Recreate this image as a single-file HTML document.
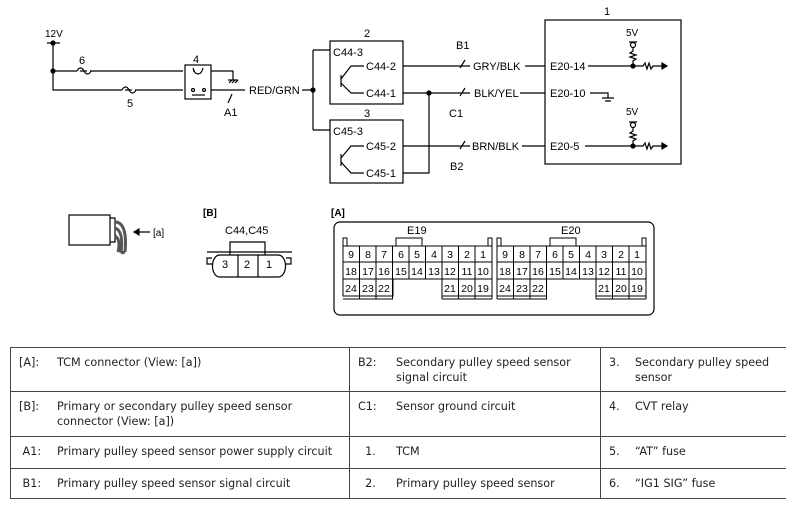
<!DOCTYPE html>
<html><head><meta charset="utf-8"><style>
body{margin:0;background:#fff;width:786px;height:507px;overflow:hidden;position:relative;font-family:"Liberation Sans",sans-serif}
svg{position:absolute;left:0;top:0}
table{position:absolute;left:10px;top:347px;border-collapse:collapse;table-layout:fixed;width:800px;font-family:"DejaVu Sans",sans-serif;font-size:11.2px;color:#222}
td{border:1px solid #444;vertical-align:top;padding:7px 2px 0 8px;overflow:hidden;white-space:nowrap;line-height:15px}
td span{display:inline-block;width:38px}
td.c span{width:26px}
</style></head><body>
<svg width="786" height="340" font-family="Liberation Sans, sans-serif" font-size="11" fill="none" stroke="#000" stroke-width="1.2">
<g fill="#000" stroke="none">
<text x="45" y="37" font-size="10">12V</text>
<text x="79" y="64">6</text><text x="127" y="107">5</text><text x="193" y="63">4</text>
<text x="224" y="116">A1</text><text x="249" y="94">RED/GRN</text>
<text x="364" y="37">2</text><text x="364" y="117">3</text>
<text x="333" y="56">C44-3</text><text x="366" y="70">C44-2</text><text x="366" y="97">C44-1</text>
<text x="333" y="135">C45-3</text><text x="366" y="150">C45-2</text><text x="366" y="177">C45-1</text>
<text x="456" y="49">B1</text><text x="449" y="117">C1</text><text x="450" y="170">B2</text>
<text x="473" y="70">GRY/BLK</text><text x="474" y="97">BLK/YEL</text><text x="472" y="150">BRN/BLK</text>
<text x="550" y="70">E20-14</text><text x="550" y="97">E20-10</text><text x="550" y="150">E20-5</text>
<text x="604" y="15">1</text><text x="626" y="36" font-size="10">5V</text><text x="626" y="115" font-size="10">5V</text>
<text x="153" y="236" font-size="10">[a]</text>
<text x="203" y="216" font-weight="bold" font-size="10">[B]</text><text x="331" y="216" font-weight="bold" font-size="10">[A]</text>
<text x="225" y="234" font-size="11">C44,C45</text>
<text x="222" y="268">3</text><text x="244" y="268">2</text><text x="266" y="268">1</text>
<text x="407" y="234">E19</text><text x="561" y="234">E20</text>
</g>
<circle cx="53" cy="43" r="2" fill="#000"/><path d="M47 43H60M53 43V90H183M53 71H183"/><circle cx="53" cy="71" r="2" fill="#000"/>
<path d="M77 71h3M87 71h3M122 90h3M132 90h3" stroke="#fff" stroke-width="3"/>
<path d="M77 71c2-4 5-4 7 0s5 4 7 0M122 90c2-4 5-4 7 0s5 4 7 0"/>
<rect x="185" y="65" width="26" height="34"/>
<path d="M193 71h2m16 0h22v9M228 80h10M229 83l3-3m0 3l3-3m0 3l3-3M211 90h34M228 103l4-9M302 90h11M313 50V130M313 50h17M313 130h17"/>
<path d="M193 68c2 8 8 8 10 0" /><circle cx="193" cy="90" r="1.5"/><circle cx="204" cy="90" r="1.5"/><path d="M192 95h13"/>
<circle cx="313" cy="90" r="2" fill="#000"/>
<rect x="330" y="41" width="73" height="63"/><rect x="330" y="120" width="73" height="63"/>
<path d="M341 75v12M341 79l10-13h13M341 83l10 10h13M341 154v12M341 158l10-12h13M341 162l10 11h13"/>
<path d="M403 66h67M403 93h67M403 146h67M403 173h26V93M465 60l-5 8M465 88l-5 8M465 141l-5 8M525 66h20M520 93h25M522 146h23"/>
<circle cx="429" cy="93" r="2" fill="#000"/>
<rect x="545" y="20" width="136" height="144"/>
<path d="M588 66h45M590 93h18v5M602 98h12M605 101h6M585 146h48"/>
<circle cx="633" cy="66" r="2" fill="#000"/><circle cx="633" cy="146" r="2" fill="#000"/>
<circle cx="633" cy="45" r="2.5"/><circle cx="633" cy="125" r="2.5"/>
<path d="M629 42h8M629 122h8M633 48v3l-3 2 6 2-6 2 6 2-3 2v7M633 128v3l-3 2 6 2-6 2 6 2-3 2v7"/>
<path d="M633 66h10l2-3 2 6 2-6 2 6 2-3h10M633 146h10l2-3 2 6 2-6 2 6 2-3h10"/>
<path d="M662 63l5 3-5 3zM662 143l5 3-5 3z" fill="#000"/>
<rect x="69" y="215" width="41" height="30"/><path d="M110 218h5v24h-5"/>
<path d="M115 222c8 0 12 10 10 30M115 228c6 2 8 10 6 25M115 236c4 2 5 8 3 16M125 252l-4 1" stroke="#555" stroke-width="3"/>
<path d="M150 232h-12M139 229l-5 3 5 3z" fill="#000"/>
<path d="M230 255v-13h35v13M207 252h85M212 258h-5v6h5M286 258h5v6h-5M220 255h58c10 0 10 22 0 22h-58c-10 0-10-22 0-22M238 255v22M258 255v22"/>
<rect x="334" y="222" width="320" height="93" rx="6"/>
<g stroke-width="1">
<path d="M343 246h149v33M343 246v50h50v-17M343 262h149M343 279h50M343 296h50M343 299h50M359.5 246v53M376 246v53M392.5 246v53M409 246v33M425.5 246v33M442 246v53M458.5 246v53M475 246v53M442 279h50M442 296h50M442 299h50M492 279v20M393 279h49"/>
<path d="M343 246v-8h4v8M488 246v-8h4v8M396 246v-8h26v8"/>
<path d="M497 246h149v53M497 246v53M497 262h149M497 279h149M497 296h50M497 299h50M513.5 246v53M530 246v53M546.5 246v53M563 246v33M579.5 246v33M596 246v53M612.5 246v53M629 246v53M596 296h50M596 299h50"/>
<path d="M497 246v-8h4v8M642 246v-8h4v8M550 246v-8h26v8"/>
</g>
<g fill="#000" stroke="none" font-size="10.5" text-anchor="middle">
<text x="351" y="258">9</text><text x="368" y="258">8</text><text x="384" y="258">7</text><text x="401" y="258">6</text><text x="417" y="258">5</text><text x="434" y="258">4</text><text x="450" y="258">3</text><text x="467" y="258">2</text><text x="483" y="258">1</text>
<text x="351" y="275">18</text><text x="368" y="275">17</text><text x="384" y="275">16</text><text x="401" y="275">15</text><text x="417" y="275">14</text><text x="434" y="275">13</text><text x="450" y="275">12</text><text x="467" y="275">11</text><text x="483" y="275">10</text>
<text x="351" y="292">24</text><text x="368" y="292">23</text><text x="384" y="292">22</text><text x="450" y="292">21</text><text x="467" y="292">20</text><text x="483" y="292">19</text>
<text x="505" y="258">9</text><text x="522" y="258">8</text><text x="538" y="258">7</text><text x="555" y="258">6</text><text x="571" y="258">5</text><text x="588" y="258">4</text><text x="604" y="258">3</text><text x="621" y="258">2</text><text x="637" y="258">1</text>
<text x="505" y="275">18</text><text x="522" y="275">17</text><text x="538" y="275">16</text><text x="555" y="275">15</text><text x="571" y="275">14</text><text x="588" y="275">13</text><text x="604" y="275">12</text><text x="621" y="275">11</text><text x="637" y="275">10</text>
<text x="505" y="292">24</text><text x="522" y="292">23</text><text x="538" y="292">22</text><text x="604" y="292">21</text><text x="621" y="292">20</text><text x="637" y="292">19</text>
</g>
</svg>
<table>
<colgroup><col style="width:339px"><col style="width:251px"><col style="width:210px"></colgroup>
<tr style="height:44px"><td><span>[A]:</span>TCM connector (View: [a])</td><td><span>B2:</span>Secondary pulley speed sensor<br><span></span>signal circuit</td><td class="c"><span>3.</span>Secondary pulley speed<br><span></span>sensor</td></tr>
<tr style="height:45px"><td><span>[B]:</span>Primary or secondary pulley speed sensor<br><span></span>connector (View: [a])</td><td><span>C1:</span>Sensor ground circuit</td><td class="c"><span>4.</span>CVT relay</td></tr>
<tr style="height:32px"><td><span>&nbsp;A1:</span>Primary pulley speed sensor power supply circuit</td><td><span>&nbsp;&nbsp;1.</span>TCM</td><td class="c"><span>5.</span>“AT” fuse</td></tr>
<tr style="height:30px"><td><span>&nbsp;B1:</span>Primary pulley speed sensor signal circuit</td><td><span>&nbsp;&nbsp;2.</span>Primary pulley speed sensor</td><td class="c"><span>6.</span>“IG1 SIG” fuse</td></tr>
</table>
</body></html>
